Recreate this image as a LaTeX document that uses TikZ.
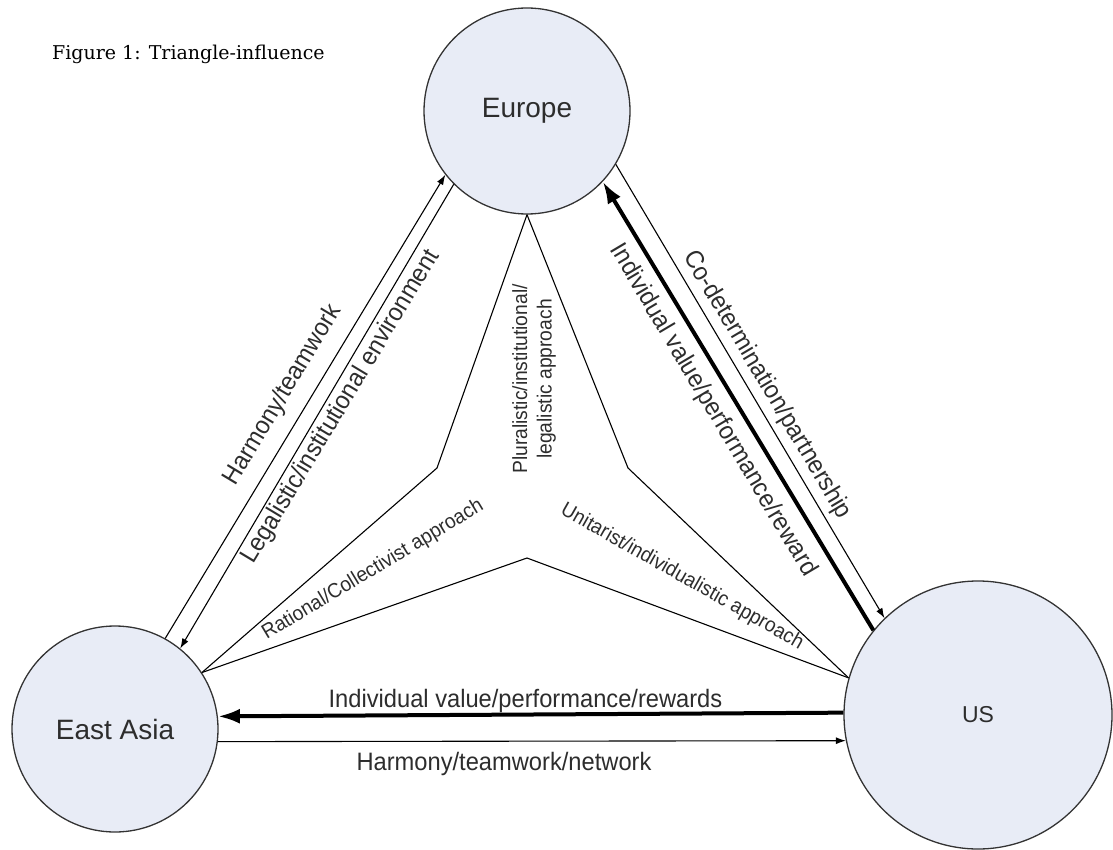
\documentclass[tikz,border=0pt]{standalone}
\usepackage{fontspec}
\setmainfont{Liberation Sans}
\newfontfamily\titlefont{DejaVu Serif}
\usetikzlibrary{arrows.meta}
\definecolor{regionfill}{RGB}{232,236,246}
\definecolor{txt}{RGB}{45,45,45}
\newcommand{\narrowtext}[1]{\scalebox{0.94}[1]{#1}}
\begin{document}
\begin{tikzpicture}[x=1pt,y=-1pt,
  region/.style={circle, draw=black!80, line width=1.3pt, fill=regionfill, inner sep=0pt, text=txt},
  thinarrow/.style={line width=1.1pt, -{Latex[length=10pt,width=7pt]}},
  thickarrow/.style={line width=4pt, -{Latex[length=22pt,width=15pt]}},
  plainline/.style={line width=1.1pt, line join=miter},
  lbl/.style={font=\fontsize{25.2}{29}\selectfont, text=txt, inner sep=0pt},
  smalllbl/.style={font=\fontsize{20.5}{24.5}\selectfont, text=txt, inner sep=0pt, align=center},
]
\useasboundingbox (0,0) rectangle (1113,850);

% title
\node[anchor=base west, inner sep=0pt, font=\titlefont\fontsize{19}{23}\selectfont] (title) at (52,60) {Figure 1: Triangle-influence};

% regions
\node[region, minimum size=206pt, font=\fontsize{28}{32}\selectfont] (eu) at (527,111) {Europe};
\node[region, minimum size=206pt, font=\fontsize{28}{32}\selectfont] (ea) at (115,729) {East Asia};
\node[region, minimum size=268pt, font=\fontsize{23}{27}\selectfont] (us) at (978,715) {US};

% inner bent lines
\coordinate (bl) at (437,468);
\coordinate (br) at (628,468);
\coordinate (bb) at (527,558);
\draw[plainline] (eu.south) -- (bl) -- (ea.33);
\draw[plainline] (ea.33) -- (bb) -- (us.164);
\draw[plainline] (us.164) -- (br) -- (eu.south);

% East Asia <-> Europe
\draw[thinarrow] (ea.61.5) -- (eu.218.2);
\draw[thinarrow] (eu.225.4) -- (ea.51.4);
% Europe <-> US
\draw[thinarrow] (eu.-31) -- (us.134.1);
\draw[thickarrow] (us.141) -- (eu.-43.2);
% US <-> East Asia
\draw[thickarrow] (us.179.57) -- (ea.7.25);
\draw[thinarrow] (ea.-7.25) -- (us.191.6);

% labels
\node[lbl, rotate=59] (l1) at (283,395) {\narrowtext{Harmony/teamwork}};
\node[lbl, rotate=59] (l2) at (341,407) {\narrowtext{Legalistic/institutional environment}};
\node[lbl, rotate=-59.3] (l3) at (767,385) {\narrowtext{Co-determination/partnership}};
\node[lbl, rotate=-59.3] (l4) at (713,410) {\narrowtext{Individual value/performance/reward}};
\node[lbl, anchor=base] (l5) at (525.5,707) {\narrowtext{Individual value/performance/rewards}};
\node[lbl, anchor=base] (l6) at (504,770) {\narrowtext{Harmony/teamwork/network}};
\node[smalllbl, rotate=31] (l7) at (373,570) {\narrowtext{Rational/Collectivist approach}};
\node[smalllbl, rotate=-29.5] (l8) at (682,577) {\narrowtext{Unitarist/individualistic approach}};
\node[smalllbl, rotate=90] (l9) at (534,379) {\narrowtext{Pluralistic/institutional/}\\\narrowtext{legalistic approach}};
\end{tikzpicture}
\end{document}
